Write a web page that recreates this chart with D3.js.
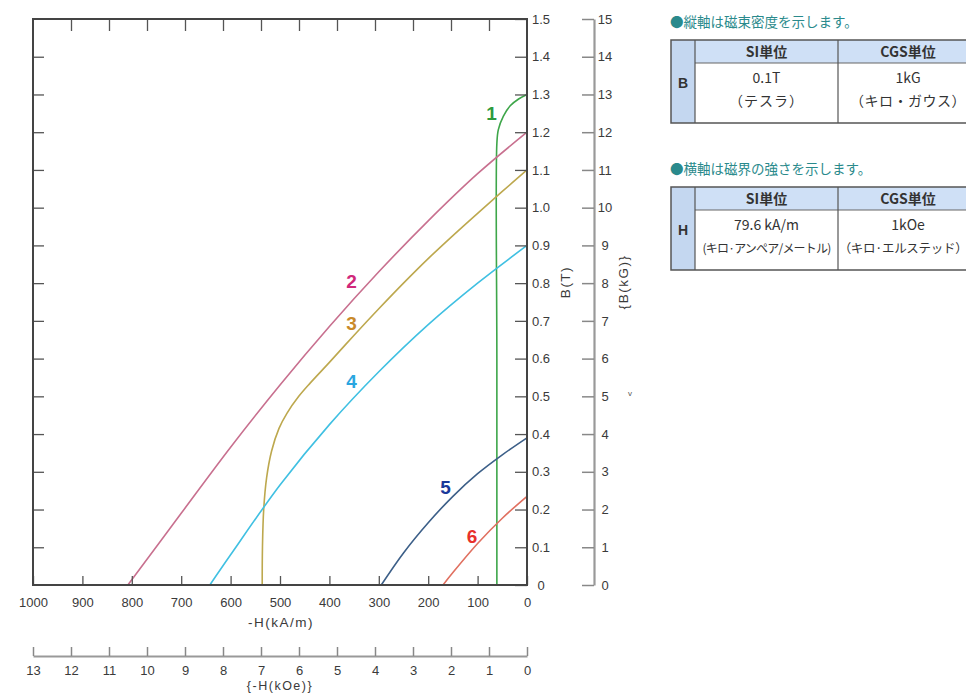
<!DOCTYPE html>
<html>
<head>
<meta charset="utf-8">
<script src="https://cdn.jsdelivr.net/npm/d3@7"></script>
<style>
  body { margin: 0; background: #fff; }
  svg { display: block; }
  .tick text { font-family: "Liberation Sans", Arial, sans-serif; font-size: 13px; fill: #3a3a3a; }
  .jp { font-family: "Noto Sans CJK JP", sans-serif; }
</style>
</head>
<body>
<div id="chart"></div>
<script>
// demagnetization curves, [-H (kA/m), B (T)]
var curve1 = [[61, 0], [61, 0.6], [61, 1.17], [58, 1.207], [48, 1.242], [34, 1.27], [17, 1.288], [0, 1.3]];
var curve2 = [[808, 0], [700, 0.19], [600, 0.365], [500, 0.53], [400, 0.685], [300, 0.83], [200, 0.965], [100, 1.09], [0, 1.2]];
var curve3 = [[536, 0], [535.5, 0.1], [533, 0.2], [527, 0.285], [517, 0.355], [502, 0.415], [486, 0.455], [462, 0.5], [439, 0.535], [400, 0.59], [350, 0.662], [300, 0.732], [250, 0.8], [200, 0.865], [150, 0.926], [100, 0.985], [50, 1.043], [0, 1.1]];
var curve4 = [[642, 0], [600, 0.08], [500, 0.265], [400, 0.425], [300, 0.565], [200, 0.69], [100, 0.8], [0, 0.9]];
var curve5 = [[295, 0], [250, 0.085], [200, 0.165], [150, 0.235], [100, 0.295], [50, 0.345], [0, 0.39]];
var curve6 = [[170, 0], [150, 0.033], [100, 0.11], [50, 0.177], [0, 0.235]];

var curveNames = ["1", "2", "3", "4", "5", "6"];
var lineColors = ["#3ea64a", "#c8708f", "#bda84e", "#40c0e2", "#3c5f88", "#e07060"];
var labelColors = ["#2e9a3e", "#d0287a", "#c98a2a", "#2aa6e0", "#1a3a9a", "#e8302a"];

var hTicks = [1000, 900, 800, 700, 600, 500, 400, 300, 200, 100, 0];
var kOeTicks = [13, 12, 11, 10, 9, 8, 7, 6, 5, 4, 3, 2, 1, 0];
var bTicks = [0, 0.1, 0.2, 0.3, 0.4, 0.5, 0.6, 0.7, 0.8, 0.9, 1.0, 1.1, 1.2, 1.3, 1.4, 1.5];
var kGTicks = [0, 1, 2, 3, 4, 5, 6, 7, 8, 9, 10, 11, 12, 13, 14, 15];

var width = 966;
var height = 693;
var plot = {left: 33, right: 527, top: 19, bottom: 585};

var svg = d3.select("#chart").append("svg")
    .attr("width", width)
    .attr("height", height);

var x = d3.scaleLinear().domain([1000, 0]).range([plot.left, plot.right]);
var xOe = d3.scaleLinear().domain([13, 0]).range([plot.left, plot.right]);
var y = d3.scaleLinear().domain([0, 1.5]).range([plot.bottom, plot.top]);
var yG = d3.scaleLinear().domain([0, 15]).range([plot.bottom, plot.top]);

// curves
var line = d3.line()
    .x(function(d) { return x(d[0]); })
    .y(function(d) { return y(d[1]); })
    .curve(d3.curveCatmullRom.alpha(0.5));

var curves = [curve1, curve2, curve3, curve4, curve5, curve6];
svg.append("g").selectAll("path")
    .data(curves)
    .enter().append("path")
    .attr("d", line)
    .attr("fill", "none")
    .attr("stroke", function(d, i) { return lineColors[i]; })
    .attr("stroke-width", 1.6);

// curve numbers
var labelPos = [[491.5, 113], [351.5, 281.5], [351.5, 323], [351.5, 381.5], [445.5, 487.5], [472, 536.5]];
svg.append("g").selectAll("text")
    .data(curveNames)
    .enter().append("text")
    .attr("x", function(d, i) { return labelPos[i][0]; })
    .attr("y", function(d, i) { return labelPos[i][1]; })
    .attr("dominant-baseline", "central")
    .attr("text-anchor", "middle")
    .style("font-family", "Liberation Sans, Arial, sans-serif")
    .style("font-weight", "bold")
    .style("font-size", "19px")
    .style("fill", function(d, i) { return labelColors[i]; })
    .text(function(d) { return d; });

// axes (inward ticks)
var bottomAxis = svg.append("g")
    .attr("transform", "translate(0," + plot.bottom + ")")
    .call(d3.axisBottom(x).tickValues(hTicks).tickSizeInner(-9).tickSizeOuter(0).tickPadding(13)
        .tickFormat(d3.format("d")));
bottomAxis.select(".domain").remove();

var topAxis = svg.append("g")
    .attr("transform", "translate(0," + plot.top + ")")
    .call(d3.axisTop(xOe).tickValues(d3.range(1, 13)).tickSizeInner(-12).tickSizeOuter(0).tickFormat(""));
topAxis.select(".domain").remove();

var leftAxis = svg.append("g")
    .attr("transform", "translate(" + plot.left + ",0)")
    .call(d3.axisLeft(y).tickValues(bTicks.slice(1, 15)).tickSizeInner(-11).tickSizeOuter(0).tickFormat(""));
leftAxis.select(".domain").remove();

var rightAxis = svg.append("g")
    .attr("transform", "translate(" + plot.right + ",0)")
    .call(d3.axisRight(y).tickValues(bTicks).tickSizeInner(-12).tickSizeOuter(0).tickPadding(14)
        .tickFormat(function(d) { return d === 0 ? "0" : d.toFixed(1); }));
rightAxis.select(".domain").remove();
rightAxis.selectAll("text").attr("text-anchor", "middle");

svg.selectAll(".tick line").attr("stroke", "#555").attr("stroke-width", 1.3);

// frame
svg.append("rect")
    .attr("x", plot.left)
    .attr("y", plot.top)
    .attr("width", plot.right - plot.left)
    .attr("height", plot.bottom - plot.top)
    .attr("fill", "none")
    .attr("stroke", "#444")
    .attr("stroke-width", 2);

// kG axis
var kGAxis = svg.append("g")
    .attr("transform", "translate(594,0)")
    .call(d3.axisRight(yG).tickValues(kGTicks).tickSizeInner(-12).tickSizeOuter(0).tickPadding(11));
kGAxis.selectAll("text").attr("text-anchor", "middle");
kGAxis.select(".domain").attr("stroke", "#999").attr("stroke-width", 2.2);
kGAxis.selectAll(".tick line").attr("stroke", "#888").attr("stroke-width", 1.5);

// kOe axis
var oeAxis = svg.append("g")
    .attr("transform", "translate(0,656)")
    .call(d3.axisBottom(xOe).tickValues(kOeTicks).tickSizeInner(-9).tickSizeOuter(0).tickPadding(10));
oeAxis.select(".domain").attr("stroke", "#999").attr("stroke-width", 2);
oeAxis.selectAll(".tick line").attr("stroke", "#888").attr("stroke-width", 1.5);

// axis titles
function axisTitle(tr, txt, size) {
    svg.append("text")
        .attr("transform", tr)
        .attr("text-anchor", "middle")
        .style("font-family", "Liberation Sans, Arial, sans-serif")
        .style("font-size", size || "13.5px").style("letter-spacing", "1.5px").style("fill", "#3a3a3a")
        .text(txt);
}
axisTitle("translate(281,627)", "-H(kA/m)");
axisTitle("translate(280,690)", "{-H(kOe)}", "12.5px");
axisTitle("translate(570,282) rotate(-90)", "B(T)");
axisTitle("translate(628,282) rotate(-90)", "{B(kG)}");

svg.append("text")
    .attr("x", 630).attr("y", 396)
    .attr("text-anchor", "middle")
    .style("font-family", "Liberation Sans, Arial, sans-serif")
    .style("font-size", "8px").style("fill", "#555")
    .text("v");

// unit tables
var tables = [
    {title: "●縦軸は磁束密度を示します。", top: 40, sym: "B",
     si: ["0.1T", "（テスラ）"], cgs: ["1kG", "（キロ・ガウス）"], siSmall: false},
    {title: "●横軸は磁界の強さを示します。", top: 187, sym: "H",
     si: ["79.6 kA/m", "(キロ·アンペア/メートル)"], cgs: ["1kOe", "（キロ·エルステッド）"], siSmall: true}
];
var tx = [671, 695, 838, 980];

tables.forEach(function(t) {
    var g = svg.append("g");
    var hdrBottom = t.top + 23;
    var bottom = t.top + 83;
    g.append("text").attr("class", "jp")
        .attr("x", 670).attr("y", t.top - 13)
        .style("font-size", "13.5px").style("fill", "#2a8a8c")
        .text(t.title);
    g.append("rect").attr("x", tx[0]).attr("y", t.top).attr("width", tx[3] - tx[0]).attr("height", hdrBottom - t.top)
        .attr("fill", "#cfe0f6");
    g.append("rect").attr("x", tx[0]).attr("y", t.top).attr("width", tx[1] - tx[0]).attr("height", bottom - t.top)
        .attr("fill", "#c4d7f0");
    g.append("rect").attr("x", tx[0]).attr("y", t.top).attr("width", tx[3] - tx[0]).attr("height", bottom - t.top)
        .attr("fill", "none").attr("stroke", "#555").attr("stroke-width", 1.5);
    g.append("line").attr("x1", tx[1]).attr("x2", tx[3]).attr("y1", hdrBottom).attr("y2", hdrBottom)
        .attr("stroke", "#666").attr("stroke-width", 1);
    [tx[1], tx[2]].forEach(function(cx) {
        g.append("line").attr("x1", cx).attr("x2", cx).attr("y1", t.top).attr("y2", bottom)
            .attr("stroke", "#555").attr("stroke-width", 1.2);
    });
    var mid1 = (tx[1] + tx[2]) / 2, mid2 = 908;
    g.append("text").attr("class", "jp").attr("x", mid1).attr("y", t.top + 17)
        .attr("text-anchor", "middle").style("font-size", "14px").style("font-weight", "bold").style("fill", "#333")
        .text("SI単位");
    g.append("text").attr("class", "jp").attr("x", mid2).attr("y", t.top + 17)
        .attr("text-anchor", "middle").style("font-size", "14px").style("font-weight", "bold").style("fill", "#333")
        .text("CGS単位");
    g.append("text").attr("x", (tx[0] + tx[1]) / 2).attr("y", t.top + 48)
        .attr("text-anchor", "middle").style("font-family", "Liberation Sans, Arial, sans-serif")
        .style("font-size", "14px").style("font-weight", "bold").style("fill", "#333")
        .text(t.sym);
    g.append("text").attr("class", "jp").attr("x", mid1).attr("y", t.top + 43)
        .attr("text-anchor", "middle").style("font-size", "14px").style("fill", "#333").text(t.si[0]);
    g.append("text").attr("class", "jp").attr("x", mid1).attr("y", t.top + 66)
        .attr("text-anchor", "middle").style("font-size", t.siSmall ? "12px" : "14px").style("fill", "#333")
        .style("letter-spacing", t.siSmall ? "-0.8px" : "1px").text(t.si[1]);
    g.append("text").attr("class", "jp").attr("x", mid2).attr("y", t.top + 43)
        .attr("text-anchor", "middle").style("font-size", "14px").style("fill", "#333").text(t.cgs[0]);
    g.append("text").attr("class", "jp").attr("x", t.siSmall ? 903 : mid2).attr("y", t.top + 66)
        .attr("text-anchor", "middle").style("font-size", t.siSmall ? "12.5px" : "14px").style("fill", "#333")
        .style("letter-spacing", t.siSmall ? "-0.3px" : "0.5px").text(t.cgs[1]);
});
</script>
</body>
</html>
